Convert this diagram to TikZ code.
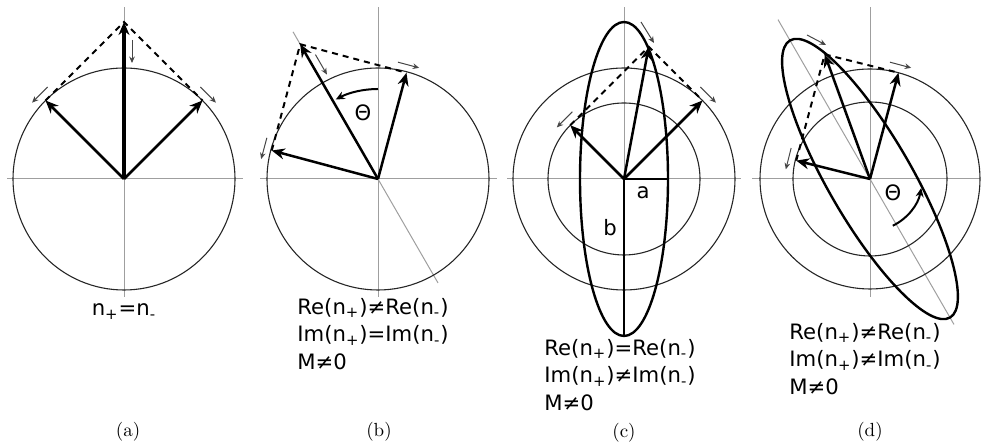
\documentclass[tikz,border=0pt]{standalone}
\usepackage{fontspec}
\usetikzlibrary{arrows.meta}
\newfontfamily\lblfont{DejaVu Sans}
% small gray rotation arrow beside a vector tip: angle, radius, sense (1 ccw, -1 cw)
\newcommand{\spinarrow}[3]{\draw[spin, rotate=#1] (#2+8, -11*#3) -- (#2+8, 11*#3);}

\begin{document}
\begin{tikzpicture}[
		x=0.5pt, y=0.5pt,
		axis/.style={gray!75, line width=0.5pt},
		ring/.style={black!85, line width=0.55pt},
		vec/.style={line width=1.25pt, -{Stealth[length=6.5pt, width=5.5pt]}},
		tipline/.style={line width=1pt, dash pattern=on 3pt off 2.5pt},
		spin/.style={gray!55!black, line width=0.5pt, -{Stealth[length=3.2pt, width=2.8pt]}},
		trace/.style={line width=1.2pt},
		angarrow/.style={line width=1pt, -{Stealth[length=4.5pt, width=4pt]}},
		txt/.style={font=\lblfont\fontsize{10.6}{13.75}\selectfont, inner sep=0pt, align=left},
		captext/.style={font=\fontsize{9.5}{11}\selectfont, inner sep=0pt}
		]
		\useasboundingbox (0,0) rectangle (982,448);
		
		% ==========================================
		% (a) n+ = n-
		% ==========================================
		\begin{scope}[shift={(124,269)}]
			\draw[axis] (0,-118) -- (0,172) (-117,0) -- (119,0);
			\draw[ring] (0,0) circle[radius=111];
			
			\coordinate (a-O) at (0,0);
			\coordinate (a-p) at (45:111);
			\coordinate (a-m) at (135:111);
			\coordinate (a-s) at (90:157);
			
			\draw[tipline] (a-m) -- (a-s) -- (a-p);
			\draw[vec] (a-O) -- (a-p);
			\draw[vec] (a-O) -- (a-m);
			\draw[vec, line width=1.6pt] (a-O) -- (a-s);
			
			% rotation sense
			\spinarrow{45}{111}{-1}
			\spinarrow{135}{111}{1}
			\draw[spin, rotate=90] (139,-8) -- (116,-8);
			
			\node[txt, anchor=base] (a-txt) at (0,-137) {n\textsubscript{+}=n\textsubscript{-}};
			\node[captext] (a-cap) at (4,-253) {(a)};
		\end{scope}
		
		% ==========================================
		% (b) real parts differ
		% ==========================================
		\begin{scope}[shift={(378,269)}]
			\draw[axis] (0,-118) -- (0,172) (-118,0) -- (119,0);
			\draw[axis] (120:170) -- (300:120);
			\draw[ring] (0,0) circle[radius=111];
			
			\coordinate (b-O) at (0,0);
			\coordinate (b-p) at (75:110);
			\coordinate (b-m) at (165:110);
			\coordinate (b-s) at (120:155.6);
			
			\draw[tipline] (b-m) -- (b-s) -- (b-p);
			\draw[vec] (b-O) -- (b-p);
			\draw[vec] (b-O) -- (b-m);
			\draw[vec] (b-O) -- (b-s);
			
			% tilt angle
			\draw[angarrow] (90:90) arc[start angle=90, end angle=118, radius=90];
			\node[txt] (b-th) at (-15,66) {Θ};
			
			% rotation sense
			\spinarrow{75}{110}{-1}
			\spinarrow{165}{110}{1}
			\draw[spin, rotate=120] (139,-8) -- (116,-8);
			
			\node[txt, anchor=north west] (b-txt) at (-81,-119)
			{Re(n\textsubscript{+})≠Re(n\textsubscript{-})\\Im(n\textsubscript{+})=Im(n\textsubscript{-})\\M≠0};
			\node[captext] (b-cap) at (1,-253) {(b)};
		\end{scope}
		
		% ==========================================
		% (c) imaginary parts differ
		% ==========================================
		\begin{scope}[shift={(624,269)}]
			\draw[axis] (0,-118) -- (0,172) (-117,0) -- (117,0);
			\draw[ring] (0,0) circle[radius=111];
			\draw[ring] (0,0) circle[radius=76];
			
			\coordinate (c-O) at (0,0);
			\coordinate (c-A) at (44,0);
			\coordinate (c-B) at (0,-157);
			\coordinate (c-p) at (45:111);
			\coordinate (c-m) at (135:76);
			\coordinate (c-s) at ([shift={(135:76)}]c-p);
			
			% polarisation ellipse
			\draw[trace] (c-O) ellipse[x radius=44, y radius=157];
			\draw[line width=0.9pt] (c-O) -- (c-A);
			\draw[line width=0.9pt] (c-O) -- (c-B);
			\node[txt] (c-a) at (19,-14) {a};
			\node[txt] (c-b) at (-14,-49) {b};
			
			\draw[tipline] (c-m) -- (c-s) -- (c-p);
			\draw[vec] (c-O) -- (c-p);
			\draw[vec] (c-O) -- (c-m);
			\draw[vec] (c-O) -- (c-s);
			
			% rotation sense
			\spinarrow{45}{111}{-1}
			\spinarrow{135}{76}{1}
			\draw[spin] (17,157) -- (30,136);
			
			\node[txt, anchor=north west] (c-txt) at (-80,-160)
			{Re(n\textsubscript{+})=Re(n\textsubscript{-})\\Im(n\textsubscript{+})≠Im(n\textsubscript{-})\\M≠0};
			\node[captext] (c-cap) at (0,-254) {(c)};
		\end{scope}
		
		% ==========================================
		% (d) both parts differ
		% ==========================================
		\begin{scope}[shift={(870,269)}]
			\draw[axis] (0,-118) -- (0,172) (-118,0) -- (110,0);
			\draw[axis] (120:184) -- (300:168);
			\draw[ring] (0,0) circle[radius=110];
			\draw[ring] (0,0) circle[radius=77];
			
			\coordinate (d-O) at (0,0);
			\coordinate (d-p) at (75:110);
			\coordinate (d-m) at (166:76);
			\coordinate (d-s) at ([shift={(166:76)}]d-p);
			
			% tilted polarisation ellipse
			\draw[trace, rotate=120] (d-O) ellipse[x radius=160, y radius=42];
			
			\draw[tipline] (d-m) -- (d-s) -- (d-p);
			\draw[vec] (d-O) -- (d-p);
			\draw[vec] (d-O) -- (d-m);
			\draw[vec] (d-O) -- (d-s);
			
			% tilt angle
			\draw[angarrow] (296:52) arc[start angle=296, end angle=350, radius=52];
			\node[txt] (d-th) at (23,-14) {Θ};
			
			% rotation sense
			\spinarrow{75}{110}{-1}
			\spinarrow{166}{76}{1}
			\draw[spin] (-63,144) -- (-44,134);
			
			\node[txt, anchor=north west] (d-txt) at (-81,-144)
			{Re(n\textsubscript{+})≠Re(n\textsubscript{-})\\Im(n\textsubscript{+})≠Im(n\textsubscript{-})\\M≠0};
			\node[captext] (d-cap) at (0,-253) {(d)};
		\end{scope}
		
	\end{tikzpicture}
\end{document}
